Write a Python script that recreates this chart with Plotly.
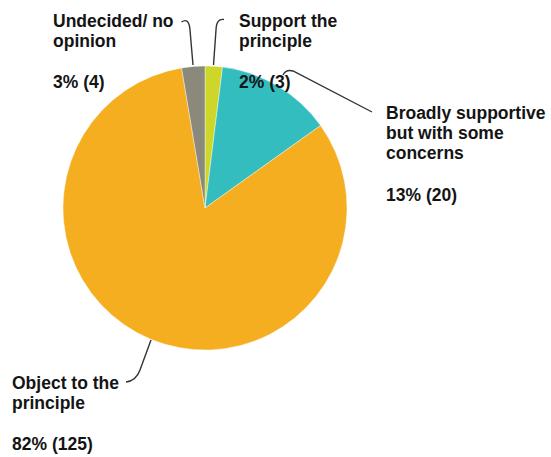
import plotly.graph_objects as go

# Survey responses, in clockwise order from 12 o'clock
categories = ["Support the principle",
              "Broadly supportive but with some concerns",
              "Object to the principle",
              "Undecided/ no opinion"]
counts = [3, 20, 125, 4]
colors = ["#cdd629", "#33bdbe", "#f5ae20", "#8a897b"]

# Wrapped label lines for each category
label_lines = [["Support the", "principle"],
               ["Broadly supportive", "but with some", "concerns"],
               ["Object to the", "principle"],
               ["Undecided/ no", "opinion"]]

W, H = 551, 457
total = sum(counts)
value_text = [f"{round(100 * c / total)}% ({c})" for c in counts]

# Pie geometry in pixels
cx, cy, r = 205, 208, 142

def px(x):
    return x / W

def py(y):
    return 1 - y / H

fig = go.Figure(go.Pie(
    labels=categories, values=counts, sort=False, direction="clockwise",
    rotation=0, marker=dict(colors=colors, line=dict(color="white", width=0.4)),
    textinfo="none", hoverinfo="label+value+percent",
    domain=dict(x=[px(cx - r), px(cx + r)], y=[py(cy + r), py(cy - r)]),
))

FS = 17.5
font = dict(family="Arial, Liberation Sans, sans-serif", size=FS, color="#141414", weight="bold")
line_gap = 20.3

# Label anchor: left x, baseline of first line, baseline of value line
anchors = [(238, 27, 88), (385, 119, 201.5), (11, 389, 450), (52, 27, 88)]

annotations = []
for lines, val, (lx, b0, bv) in zip(label_lines, value_text, anchors):
    rows = [(t, b0 + i * line_gap) for i, t in enumerate(lines)] + [(val, bv)]
    for t, b in rows:
        annotations.append(dict(
            text=t, x=px(lx), y=py(b - 0.35 * FS), xref="paper", yref="paper",
            xanchor="left", yanchor="middle", showarrow=False, font=font,
            borderpad=0))

# Leader lines (pixel paths)
leaders = [
    [("M", 181.5, 22), ("Q", 189, 17, 190, 30), ("L", 193, 65)],
    [("M", 224, 19.5), ("Q", 216.5, 18, 216, 30), ("L", 213.5, 65)],
    [("M", 283, 75), ("Q", 286, 69, 293, 71), ("L", 372, 112)],
    [("M", 151, 340), ("L", 140, 370), ("Q", 136, 381, 126, 382)],
]

def to_path(cmds):
    out = []
    for c in cmds:
        op, pts = c[0], c[1:]
        coords = []
        for i in range(0, len(pts), 2):
            coords.append(f"{px(pts[i]):.5f},{py(pts[i + 1]):.5f}")
        out.append(op + " " + " ".join(coords))
    return " ".join(out)

shapes = [dict(type="path", path=to_path(p), xref="paper", yref="paper",
               line=dict(color="#333333", width=1.4)) for p in leaders]

fig.update_layout(
    width=W, height=H, margin=dict(l=0, r=0, t=0, b=0),
    paper_bgcolor="white", plot_bgcolor="white", showlegend=False,
    annotations=annotations, shapes=shapes,
)

fig.write_html("out.html")
